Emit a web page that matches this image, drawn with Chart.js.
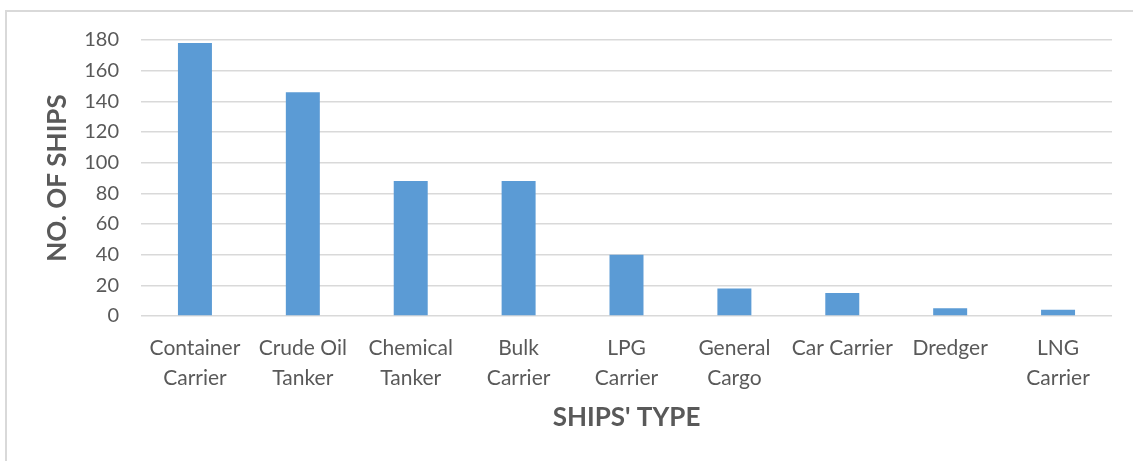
<!DOCTYPE html>
<html>
<head>
<meta charset="utf-8">
<script src="https://cdn.jsdelivr.net/npm/chart.js@4"></script>
<style>
  html, body { margin: 0; padding: 0; background: #fff; }
  #wrap { position: relative; width: 1133px; height: 461px; overflow: hidden; }
  #frame {
    position: absolute; left: 5px; top: 10px; width: 1140px; height: 470px;
    border: 2px solid #d9d9d9; box-sizing: border-box;
  }
  canvas { position: absolute; left: 0; top: 0; }
</style>
</head>
<body>
<div id="wrap">
  <div id="frame"></div>
  <canvas id="chart" width="1133" height="461"></canvas>
</div>
<script>
// ship types along the x axis (two-line labels)
const shipTypes = [
  ['Container', 'Carrier'],
  ['Crude Oil', 'Tanker'],
  ['Chemical', 'Tanker'],
  ['Bulk', 'Carrier'],
  ['LPG', 'Carrier'],
  ['General', 'Cargo'],
  'Car Carrier',
  'Dredger',
  ['LNG', 'Carrier']
];
const shipCounts = [178, 146, 88, 88, 40, 18, 15, 5, 4];
const yTicks = [0, 20, 40, 60, 80, 100, 120, 140, 160, 180];

const textColor = '#595959';
const gridColor = '#d9d9d9';

const ctx = document.getElementById('chart').getContext('2d');
new Chart(ctx, {
  type: 'bar',
  data: {
    labels: shipTypes,
    datasets: [{
      data: shipCounts,
      backgroundColor: '#5b9bd5',
      borderWidth: 0,
      categoryPercentage: 1,
      barPercentage: 0.315
    }]
  },
  options: {
    responsive: false,
    animation: false,
    layout: { padding: { top: 40, right: 21, left: 0, bottom: 0 } },
    plugins: {
      legend: { display: false },
      tooltip: { enabled: false }
    },
    scales: {
      x: {
        grid: { display: false },
        border: { display: false },
        ticks: {
          color: textColor,
          font: { family: 'Lato', size: 21, lineHeight: 1.43 },
          padding: 9,
          maxRotation: 0,
          autoSkip: false
        },
        title: {
          display: true,
          text: "SHIPS' TYPE",
          color: textColor,
          font: { family: 'Lato', size: 26, weight: 'bold', lineHeight: 1.2 },
          padding: { top: 0, bottom: 28 }
        },
        afterFit: s => { s.height = 145; }
      },
      y: {
        min: 0,
        max: 180,
        afterBuildTicks: s => { s.ticks = yTicks.map(v => ({ value: v })); },
        grid: { color: gridColor, lineWidth: 1.5, drawTicks: false },
        border: { display: false },
        ticks: {
          color: textColor,
          font: { family: 'Lato', size: 20 },
          padding: 22
        },
        title: {
          display: true,
          text: 'NO. OF SHIPS',
          color: textColor,
          font: { family: 'Lato', size: 26, weight: 'bold', lineHeight: 1.2 },
          padding: { top: 42, bottom: 0 }
        },
        afterFit: s => { s.width = 141; }
      }
    }
  }
});
</script>
</body>
</html>
